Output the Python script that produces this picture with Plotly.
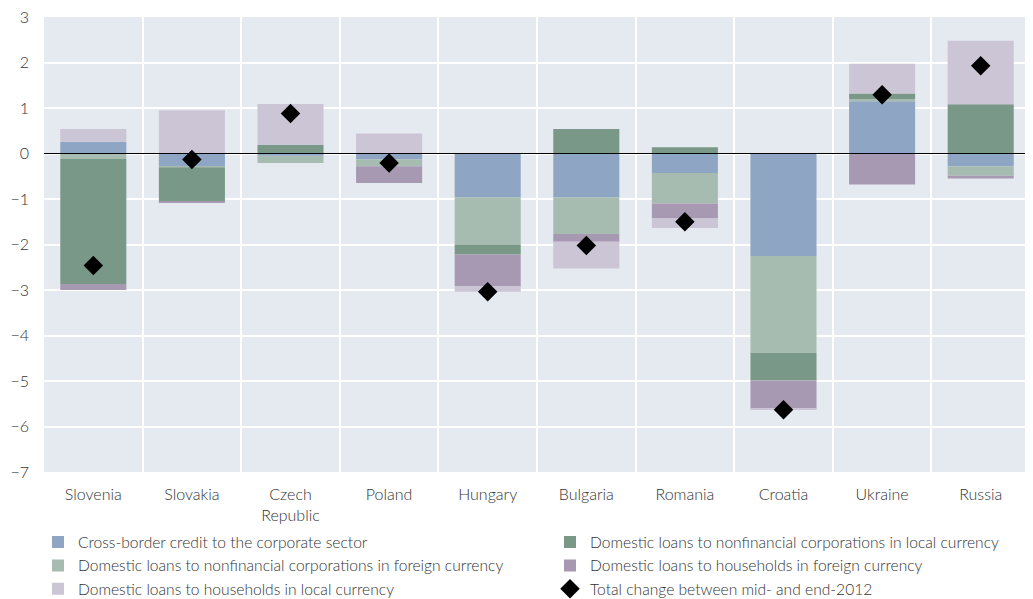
import plotly.graph_objects as go

countries = ["Slovenia", "Slovakia", "Czech<br>Republic", "Poland", "Hungary",
             "Bulgaria", "Romania", "Croatia", "Ukraine", "Russia"]

cross_border = [0.26, -0.28, -0.05, -0.13, -0.96, -0.96, -0.43, -2.25, 1.15, -0.28]
nfc_foreign = [-0.12, -0.03, -0.16, -0.15, -1.04, -0.81, -0.67, -2.13, 0.05, -0.21]
nfc_local = [-2.75, -0.74, 0.19, 0.0, -0.22, 0.54, 0.14, -0.61, 0.12, 1.08]
hh_foreign = [-0.13, -0.04, 0.0, -0.37, -0.69, -0.17, -0.33, -0.62, -0.68, -0.06]
hh_local = [0.28, 0.95, 0.90, 0.44, -0.13, -0.59, -0.21, -0.03, 0.65, 1.40]
total_change = [-2.46, -0.13, 0.88, -0.21, -3.04, -2.02, -1.50, -5.63, 1.29, 1.93]

series = [
    ("Cross-border credit to the corporate sector", cross_border, "#8fa5c4", "legend", 1),
    ("Domestic loans to nonfinancial corporations in foreign currency", nfc_foreign, "#a7bcb0", "legend", 2),
    ("Domestic loans to nonfinancial corporations in local currency", nfc_local, "#799887", "legend2", 1),
    ("Domestic loans to households in foreign currency", hh_foreign, "#a899b2", "legend2", 2),
    ("Domestic loans to households in local currency", hh_local, "#cbc5d5", "legend", 3),
]

xpos = list(range(len(countries)))

fig = go.Figure()
for name, vals, color, leg, rank in series:
    fig.add_trace(go.Bar(
        x=xpos, y=vals, name=name, width=0.67,
        marker=dict(color=color, line=dict(width=0)),
        legend=leg, legendrank=rank,
    ))

fig.add_trace(go.Scatter(
    x=xpos, y=total_change, mode="markers",
    name="Total change between mid- and end-2012",
    marker=dict(symbol="diamond", size=15, color="black"),
    legend="legend2", legendrank=3,
))

font_family = "Lato, 'Open Sans', sans-serif"
text_color = "#333333"

fig.add_shape(type="line", xref="paper", yref="y", x0=0, x1=1, y0=0, y1=0,
              line=dict(color="black", width=1), layer="above")

legend_common = dict(
    orientation="v",
    yanchor="top", y=-0.1175,
    xanchor="left",
    font=dict(size=15.6, color=text_color, weight=300),
    bgcolor="rgba(0,0,0,0)",
    traceorder="normal",
)

# page body adds an 8px offset; size figure to compensate
fig.update_layout(
    width=1025, height=591,
    barmode="relative",
    plot_bgcolor="#e5e9f0",
    paper_bgcolor="white",
    margin=dict(l=36, r=3, t=9, b=127, autoexpand=False),
    font=dict(family=font_family, size=16, color=text_color, weight=300),
    showlegend=True,
    legend=dict(x=-0.0061, **legend_common),
    legend2=dict(x=0.5132, **legend_common),
    xaxis=dict(
        range=[-0.5, 9.5],
        tickvals=xpos, ticktext=countries,
        showgrid=False, zeroline=False, showline=False,
        ticks="", ticklabelstandoff=11,
        tickfont=dict(size=16, color=text_color, weight=300),
        minor=dict(tickvals=[i + 0.5 for i in range(9)], showgrid=True,
                   gridcolor="white", gridwidth=1.5, ticks=""),
    ),
    yaxis=dict(
        range=[-7, 3], dtick=1, tick0=0,
        showgrid=True, gridcolor="white", gridwidth=1.5,
        zeroline=False, showline=False,
        ticks="", ticklabelstandoff=14, ticklabeloverflow="allow",
        tickfont=dict(size=16, color=text_color, weight=300),
    ),
)

fig.write_html("out.html")
